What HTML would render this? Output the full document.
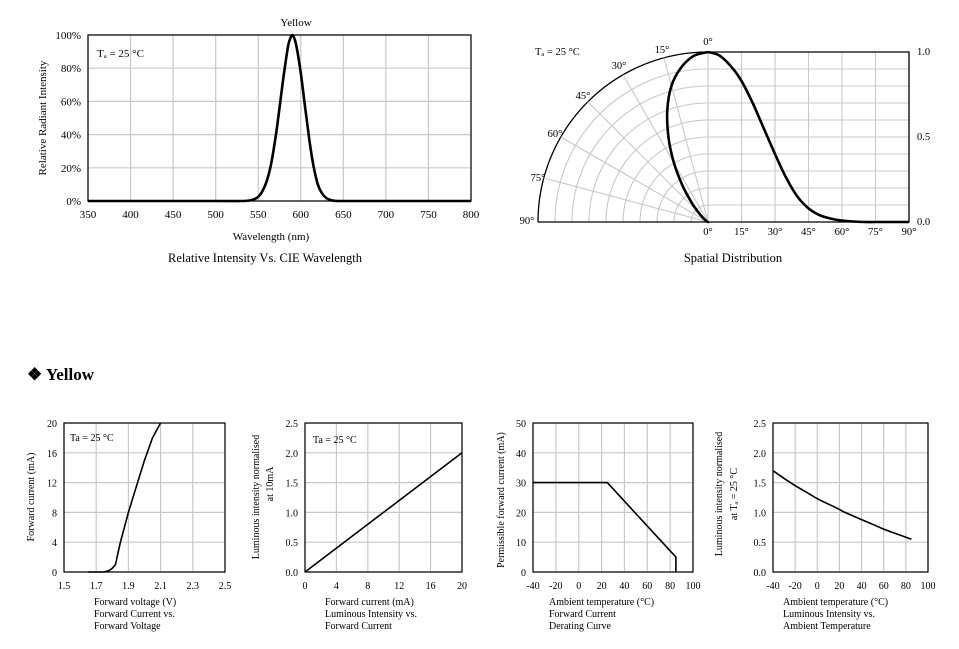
<!DOCTYPE html>
<html><head><meta charset="utf-8"><style>
html,body{margin:0;padding:0;background:#fff;}
svg{display:block;font-family:"Liberation Serif",serif;}
</style></head><body>
<svg id="s" width="959" height="649" viewBox="0 0 959 649" xmlns="http://www.w3.org/2000/svg">
<text x="27" y="380" font-size="17" font-weight="bold">❖ Yellow</text>
</svg>
<script>
// Spectrum chart data
const specWavelengths=[350,500,530,540,545,550,555,560,565,570,575,580,585,588,590,592,595,600,605,610,615,620,625,630,635,640,650,700,800];
const specValues=[0,0,0,0.3,1,2.5,6,12,22,37,56,76,93,98.5,100,98.5,93,77,57,37,21,10,4.5,1.8,0.6,0.1,0,0,0];
const specXTicks=[350,400,450,500,550,600,650,700,750,800];
const specYTicks=[0,20,40,60,80,100];
// Spatial distribution data
const spatialAngles=[0,5,10,15,20,25,30,35,40,45,50,55,60,65,70,75,80,85,90];
const spatialValues=[1.0,0.98,0.92,0.83,0.70,0.55,0.40,0.26,0.15,0.08,0.04,0.02,0.008,0.003,0,0,0,0,0];
const spatialXTicks=[0,15,30,45,60,75,90];
const spatialYTicks=[0.0,0.5,1.0];
// IV curve
const ivVoltage=[1.65,1.75,1.78,1.80,1.82,1.83,1.85,1.90,1.95,2.00,2.05,2.10];
const ivCurrent=[0,0,0.2,0.5,1.0,2.0,4.0,8.0,11.5,15.0,18.0,20.0];
// Luminous vs current
const livCurrent=[0,20];
const livIntensity=[0,2.0];
// Derating
const derTemp=[-40,25,85,85];
const derCurrent=[30,30,5,0];
// Luminous vs temperature
const ltTemp=[-40,-30,-20,-10,0,10,20,25,40,50,60,70,85];
const ltIntensity=[1.70,1.57,1.45,1.34,1.23,1.14,1.05,1.00,0.88,0.80,0.72,0.65,0.55];

const NS="http://www.w3.org/2000/svg";
const svg=document.getElementById('s');
function mk(tag,attrs,parent,txt){const e=document.createElementNS(NS,tag);for(const k in attrs)e.setAttribute(k,attrs[k]);if(txt!==undefined)e.textContent=txt;(parent||svg).appendChild(e);return e;}
function label(x,y,t,size,anchor,parent,rot){const e=mk('text',{x:x,y:y,'font-size':size,'text-anchor':anchor||'middle'},parent,t);if(rot)e.setAttribute('transform','rotate(-90 '+x+' '+y+')');return e;}
function pathFrom(pts,smooth){
  if(!smooth)return pts.map((p,i)=>(i?'L':'M')+p[0].toFixed(1)+' '+p[1].toFixed(1)).join(' ');
  let d='M'+pts[0][0].toFixed(1)+' '+pts[0][1].toFixed(1);
  for(let i=0;i<pts.length-1;i++){
    const p0=pts[i-1]||pts[i],p1=pts[i],p2=pts[i+1],p3=pts[i+2]||p2;
    const c1=[p1[0]+(p2[0]-p0[0])/6,p1[1]+(p2[1]-p0[1])/6];
    const c2=[p2[0]-(p3[0]-p1[0])/6,p2[1]-(p3[1]-p1[1])/6];
    d+=' C'+c1[0].toFixed(1)+' '+c1[1].toFixed(1)+' '+c2[0].toFixed(1)+' '+c2[1].toFixed(1)+' '+p2[0].toFixed(1)+' '+p2[1].toFixed(1);
  }
  return d;
}

function lineChart(o){
  const g=mk('g',{});
  
  
  const sx=v=>o.l+(v-o.x0)/(o.x1-o.x0)*(o.r-o.l);
  const sy=v=>o.b-(v-o.y0)/(o.y1-o.y0)*(o.b-o.t);
  o.xGrid.forEach(v=>{const ln=mk('line',{x1:sx(v),x2:sx(v),y1:o.t,y2:o.b,stroke:'#c8c8c8','stroke-width':1.2},g);});
  o.yGrid.forEach(v=>{const ln=mk('line',{x1:o.l,x2:o.r,y1:sy(v),y2:sy(v),stroke:'#c8c8c8','stroke-width':1.2},g);});
  const fr=mk('rect',{x:o.l,y:o.t,width:o.r-o.l,height:o.b-o.t,fill:'none',stroke:'#000','stroke-width':1.2},g);
  
  o.xTicks.forEach((v,i)=>{const t=label(sx(v),o.b+17,o.xLab?o.xLab[i]:String(v),o.fs,'middle',g);});
  o.yTicks.forEach((v,i)=>{const t=label(o.l-7,sy(v)+4,o.yLab?o.yLab[i]:String(v),o.fs,'end',g);});
  const d=pathFrom(o.xs.map((x,i)=>[sx(x),sy(o.ys[i])]),o.smooth);
  const p=mk('path',{d:d,fill:'none',stroke:'#000','stroke-width':o.sw||1.6,'stroke-linejoin':'round'},g);
  
  return g;
}
function range(a,b,s){const r=[];for(let v=a;v<=b+1e-9;v+=s)r.push(+v.toFixed(3));return r;}

// Chart 1
lineChart({name:'spectrum-chart',l:88,r:471,t:35,b:201,x0:350,x1:800,y0:0,y1:100,xGrid:specXTicks,yGrid:specYTicks,xTicks:specXTicks,yTicks:specYTicks,yLab:specYTicks.map(v=>v+'%'),xs:specWavelengths,ys:specValues,fs:11,sw:2.6,smooth:true});
let t;
t=label(296,26,'Yellow',11);
t=label(97,57,'Tₐ = 25 °C',11,'start');
t=label(271,240,'Wavelength (nm)',11);
t=label(46,118,'Relative Radiant Intensity',11,'middle',null,true);
t=label(265,262,'Relative Intensity Vs. CIE Wavelength',12.5);

// Spatial chart
(function(){
  const ox=708,oy=222,R=170,W=201;
  const g=mk('g',{});
  const ax=a=>ox+a/90*W, ay=v=>oy-v*R;
  for(let k=1;k<=10;k++){const r=R*k/10;const e=mk('path',{d:`M${ox-r} ${oy} A${r} ${r} 0 0 1 ${ox} ${oy-r}`,fill:'none',stroke:k==10?'#000':'#c8c8c8','stroke-width':k==10?1.3:1.1},g);}
  for(let a=15;a<90;a+=15){const rad=a*Math.PI/180;const e=mk('line',{x1:ox,y1:oy,x2:ox-R*Math.sin(rad),y2:oy-R*Math.cos(rad),stroke:'#c8c8c8','stroke-width':1.1},g);}
  for(let k=1;k<10;k++){const e=mk('line',{x1:ox,x2:ox+W,y1:oy-R*k/10,y2:oy-R*k/10,stroke:'#c8c8c8','stroke-width':1.1},g);}
  spatialXTicks.forEach(a=>{const e=mk('line',{x1:ax(a),x2:ax(a),y1:oy-R,y2:oy,stroke:'#c8c8c8','stroke-width':1.1},g);});
  const fr=mk('path',{d:`M${ox-R} ${oy} L${ox+W} ${oy} L${ox+W} ${oy-R} L${ox} ${oy-R}`,fill:'none',stroke:'#000','stroke-width':1.3},g);
  
  spatialXTicks.forEach(a=>{const e=label(ax(a),oy+13,a+'°',10.5,'middle',g);});
  spatialYTicks.forEach(v=>{const e=label(ox+W+8,ay(v)+3,v.toFixed(1),10.5,'start',g);});
  [[0,708,45],[15,662,53],[30,619,69],[45,583,99],[60,555,137],[75,538,181],[90,527,224]].forEach(q=>{const e=label(q[1],q[2],q[0]+'°',10.5,'middle',g);});
  const d1=pathFrom(spatialAngles.map((a,i)=>[ax(a),ay(spatialValues[i])]),true);
  const p1=mk('path',{d:d1,fill:'none',stroke:'#000','stroke-width':2.6},g);
  const d2=pathFrom(spatialAngles.map((a,i)=>{const rad=a*Math.PI/180,r=spatialValues[i]*R;return [ox-r*Math.sin(rad),oy-r*Math.cos(rad)];}),true);
  const p2=mk('path',{d:d2,fill:'none',stroke:'#000','stroke-width':2.6},g);
  let e=label(535,55,'Tₐ = 25 °C',10.5,'start',g);
  e=label(733,262,'Spatial Distribution',12.5,'middle',g);
})();

// Bottom charts
function caption(x,lines,name){lines.forEach((s,i)=>{const e=label(x,605+i*12,s,10,'start');});}
let xt=range(1.5,2.5,0.2);
lineChart({name:'iv-chart',l:64,r:225,t:423,b:572,x0:1.5,x1:2.5,y0:0,y1:20,xGrid:xt,yGrid:range(0,20,4),xTicks:xt,xLab:xt.map(v=>v.toFixed(1)),yTicks:range(0,20,4),xs:ivVoltage,ys:ivCurrent,fs:10});
t=label(70,441,'Ta = 25 °C',10,'start');
t=label(34,497,'Forward current (mA)',10,'middle',null,true);
caption(94,['Forward voltage (V)','Forward Current vs.','Forward Voltage'],'iv-caption');

let yt=range(0,2.5,0.5);
lineChart({name:'lum-current-chart',l:305,r:462,t:423,b:572,x0:0,x1:20,y0:0,y1:2.5,xGrid:range(0,20,4),yGrid:yt,xTicks:range(0,20,4),yTicks:yt,yLab:yt.map(v=>v.toFixed(1)),xs:livCurrent,ys:livIntensity,fs:10});
t=label(313,443,'Ta = 25 °C',10,'start');
t=label(259,497,'Luminous intensity normalised',10,'middle',null,true);
t=label(273,484,'at 10mA',10,'middle',null,true);
caption(325,['Forward current (mA)','Luminous Intensity vs.','Forward Current'],'lum-caption');

let tt=range(-40,100,20);
lineChart({name:'derating-chart',l:533,r:693,t:423,b:572,x0:-40,x1:100,y0:0,y1:50,xGrid:tt,yGrid:range(0,50,10),xTicks:tt,yTicks:range(0,50,10),xs:derTemp,ys:derCurrent,fs:10});
t=label(504,500,'Permissible forward current (mA)',10,'middle',null,true);
caption(549,['Ambient temperature (°C)','Forward Current','Derating  Curve'],'derating-caption');

lineChart({name:'lum-temp-chart',l:773,r:928,t:423,b:572,x0:-40,x1:100,y0:0,y1:2.5,xGrid:tt,yGrid:yt,xTicks:tt,yTicks:yt,yLab:yt.map(v=>v.toFixed(1)),xs:ltTemp,ys:ltIntensity,fs:10,smooth:true});
t=label(722,494,'Luminous intensity normalised',10,'middle',null,true);
t=label(737,494,'at Tₐ = 25 °C',10,'middle',null,true);
caption(783,['Ambient temperature (°C)','Luminous Intensity vs.','Ambient Temperature'],'lt-caption');
</script>
</body></html>
